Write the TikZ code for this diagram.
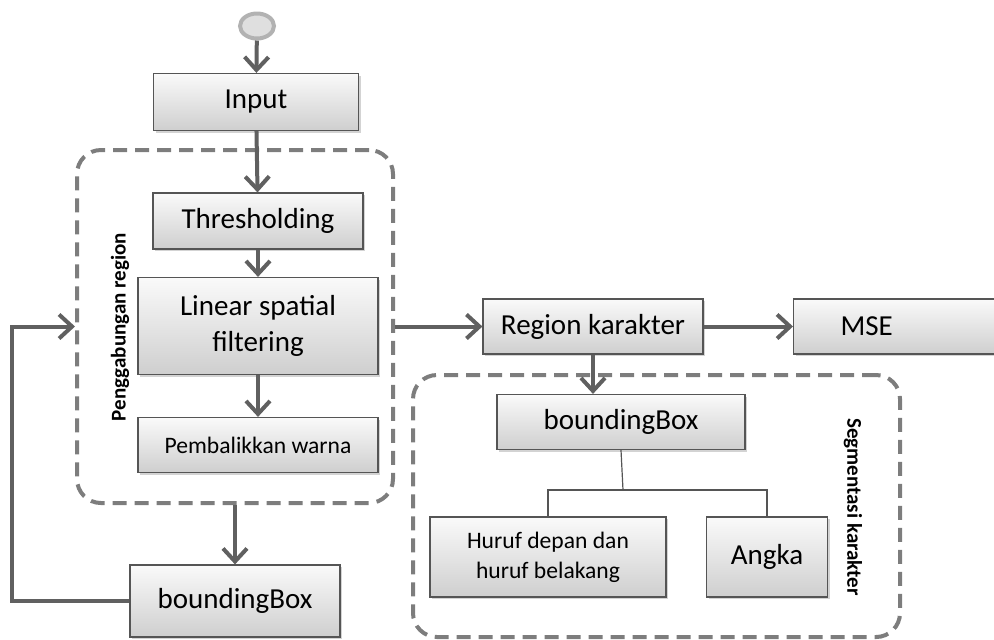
\documentclass[tikz,border=0pt]{standalone}
\usepackage{fontspec}
\setmainfont{Carlito}
\usetikzlibrary{shapes,arrows.meta,shapes.geometric,calc,shadows}
\usetikzlibrary{positioning}
\definecolor{lineGray}{RGB}{96,96,96}
\definecolor{dashGray}{RGB}{125,125,125}
\definecolor{edgeGray}{RGB}{85,85,85}

\begin{document}
\begin{tikzpicture}[x=0.5pt, y=-0.5pt]
	\tikzset{box/.style={rectangle, draw=edgeGray, line width=0.6pt, top color=gray!4, bottom color=gray!38, drop shadow={shadow xshift=1pt, shadow yshift=-1pt, opacity=0.35}, text centered, font=\fontsize{14.5}{17}\selectfont}};
	\tikzset{smallbox/.style={box, font=\fontsize{11.8}{15}\selectfont}};
	\tikzset{group/.style={rectangle, draw=dashGray, line width=2pt, dash pattern=on 7pt off 4pt, rounded corners=12pt}};
	\tikzset{flow/.style={draw=lineGray, line width=2pt, -{Straight Barb[length=6.5pt, width=12pt]}}};
	\tikzset{tree/.style={draw=edgeGray, line width=0.6pt}};
	\tikzset{side/.style={font=\fontsize{10.5}{12}\selectfont\bfseries}};
	\useasboundingbox (0,0) rectangle (994,639);
	% Place nodes
	\node [ellipse, draw=gray!60, line width=2pt, fill=gray!25, minimum width=17pt, minimum height=12.5pt, inner sep=0pt] (start) at (257,26) {};
	\node [box, minimum width=102.5pt, minimum height=28.5pt] (input) at (256,102) {Input};
	\node [group, minimum width=158pt, minimum height=176.5pt] (grp1) at (235,326.5) {};
	\node [box, minimum width=105pt, minimum height=28pt] (thresh) at (258,221) {Thresholding};
	\node [box, minimum width=120pt, minimum height=48.5pt, align=center] (linear) at (258,326) {Linear spatial\\[1pt]filtering};
	\node [smallbox, minimum width=120pt, minimum height=27.5pt] (balik) at (258,445) {Pembalikkan warna};
	\node [side, rotate=90] (lblgrp1) at (120,327) {Penggabungan region};
	\node [box, minimum width=105pt, minimum height=36pt] (bbox1) at (235,601) {boundingBox};

	\node [box, minimum width=110pt, minimum height=27.5pt] (region) at (593,326.5) {Region karakter};
	\node [box, anchor=west, minimum height=27.5pt, inner xsep=23.5pt, text width=58pt, align=left] (mse) at (793,326.5) {MSE};
	\node [group, minimum width=243.5pt, minimum height=131pt] (grp2) at (656.5,506) {};
	\node [box, minimum width=124pt, minimum height=27.5pt] (bbox2) at (621,422) {boundingBox};
	\node [smallbox, minimum width=118pt, minimum height=40pt, align=center] (huruf) at (548,557) {Huruf depan dan\\huruf belakang};
	\node [box, minimum width=60.5pt, minimum height=40pt] (angka) at (767,557) {Angka};
	\node [side, rotate=-90] (lblgrp2) at (853,507) {Segmentasi karakter};
	\coordinate (loop) at (12,500);
	\coordinate (split) at (623,490);
	% Place draw
	\draw [flow] (start) -- (input);
	\draw [flow] (input) -- (thresh);
	\draw [flow] (thresh) -- (linear);
	\draw [flow] (linear) -- (balik);
	\draw [flow] (grp1.south) -- (bbox1.north);
	\draw [flow] (bbox1.west) -| (loop) |- (grp1.west);
	\draw [flow] (grp1.east) -- (region.west);
	\draw [flow] (region) -- (mse);
	\draw [flow] (region.south) -- (region.south |- bbox2.north);
	\draw [tree] (bbox2.south) -- (split);
	\draw [tree] (huruf.north) |- (split) -| (angka.north);
\end{tikzpicture}
\end{document}
